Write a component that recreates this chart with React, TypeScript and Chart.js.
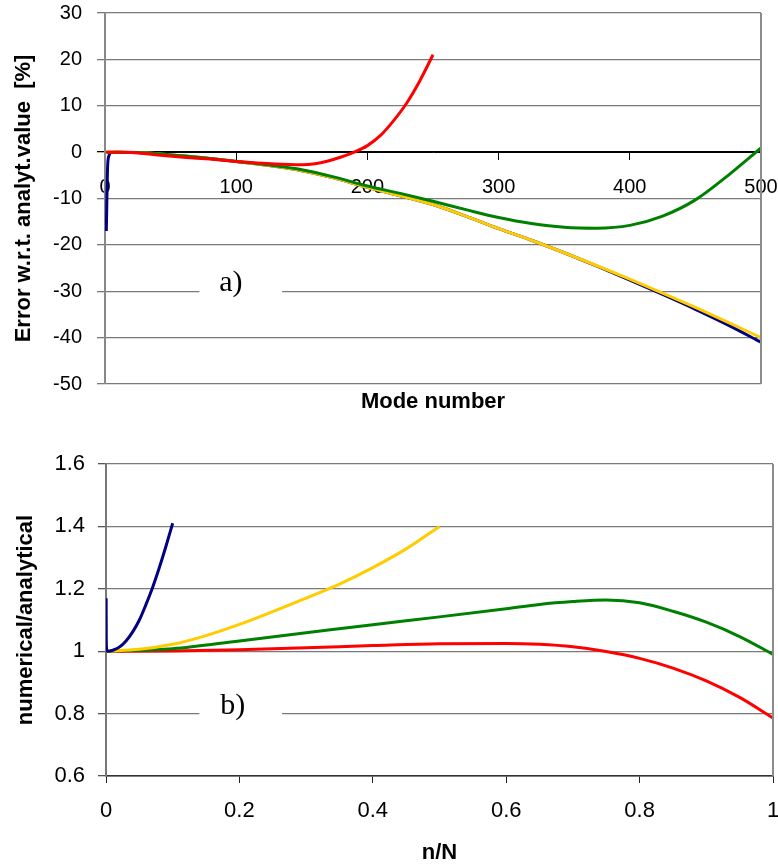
import React, { useEffect, useRef } from "react";
import { Chart, registerables } from "chart.js";

Chart.register(...registerables);

const SANS = '"Liberation Sans", Arial, sans-serif';
const SERIF = '"Liberation Serif", "Times New Roman", serif';

// ---------- Panel a) : error vs mode number ----------
const A_X_TICKS = [0, 100, 200, 300, 400, 500];
const A_Y_TICKS = [-50, -40, -30, -20, -10, 0, 10, 20, 30];

const A_RED_X = [1, 10, 20, 40, 60, 80, 100, 120, 140, 150, 160, 170, 180, 190, 200, 210, 220, 230, 240, 250];
const A_RED_Y = [0, 0, -0.1, -0.6, -1.1, -1.5, -2.0, -2.4, -2.65, -2.7, -2.5, -1.9, -1.05, 0.0, 1.4, 3.6, 6.8, 10.6, 15.4, 21];

const A_GREEN_X = [1, 25, 50, 75, 100, 125, 150, 175, 200, 225, 250, 275, 300, 325, 350, 375, 400, 425, 450, 475, 500];
const A_GREEN_Y = [0, -0.1, -0.6, -1.2, -2.0, -2.8, -3.8, -5.4, -7.3, -8.9, -10.6, -12.4, -14.1, -15.4, -16.2, -16.4, -15.8, -13.8, -10.3, -5.0, 0.9];

const A_YELLOW_X = [1, 25, 50, 75, 100, 125, 150, 175, 200, 225, 250, 275, 300, 325, 350, 375, 400, 425, 450, 475, 500];
const A_YELLOW_Y = [0, -0.1, -0.6, -1.2, -2.0, -2.9, -4.0, -5.6, -7.6, -9.4, -11.3, -13.8, -16.5, -19.0, -21.7, -24.5, -27.4, -30.4, -33.5, -36.7, -40.0];

const A_BLUE_X = [1, 2, 3, 5, 10, 25, 50, 75, 100, 125, 150, 175, 200, 225, 250, 275, 300, 325, 350, 375, 400, 425, 450, 475, 500];
const A_BLUE_Y = [-17, -3, -0.8, -0.1, 0, -0.1, -0.6, -1.2, -2.0, -2.9, -4.0, -5.6, -7.6, -9.4, -11.3, -13.8, -16.5, -19.0, -21.7, -24.6, -27.6, -30.7, -33.9, -37.3, -41.0];

// ---------- Panel b) : numerical/analytical vs n/N ----------
const B_X_TICKS = [0, 0.2, 0.4, 0.6, 0.8, 1];
const B_Y_TICKS = [0.6, 0.8, 1, 1.2, 1.4, 1.6];

const B_BLUE_X = [0.0002, 0.0004, 0.0008, 0.002, 0.005, 0.01, 0.02, 0.03, 0.04, 0.05, 0.06, 0.07, 0.08, 0.09, 0.1];
const B_BLUE_Y = [1.17, 1.04, 1.01, 1.0, 1.0, 1.003, 1.013, 1.033, 1.062, 1.1, 1.15, 1.205, 1.268, 1.337, 1.41];

const B_YELLOW_X = [0, 0.05, 0.1, 0.15, 0.2, 0.25, 0.3, 0.35, 0.4, 0.45, 0.5];
const B_YELLOW_Y = [1.0, 1.006, 1.022, 1.05, 1.086, 1.127, 1.17, 1.215, 1.268, 1.328, 1.4];

const B_GREEN_X = [0, 0.1, 0.2, 0.3, 0.4, 0.5, 0.6, 0.65, 0.7, 0.75, 0.8, 0.85, 0.9, 0.95, 1.0];
const B_GREEN_Y = [1.0, 1.008, 1.033, 1.059, 1.085, 1.11, 1.136, 1.15, 1.159, 1.164, 1.155, 1.128, 1.093, 1.047, 0.99];

const B_RED_X = [0, 0.1, 0.2, 0.3, 0.4, 0.5, 0.6, 0.65, 0.7, 0.75, 0.8, 0.85, 0.9, 0.95, 1.0];
const B_RED_Y = [1.0, 1.001, 1.005, 1.011, 1.018, 1.024, 1.025, 1.022, 1.014, 0.999, 0.977, 0.946, 0.905, 0.852, 0.786];

const NAVY = "#000080";
const GOLD = "#FFCC00";
const GREEN = "#008000";
const RED = "#FF0000";

function pts(xs: number[], ys: number[]) {
  return xs.map((x, i) => ({ x, y: ys[i] }));
}

function line(label: string, color: string, xs: number[], ys: number[]) {
  return {
    label,
    data: pts(xs, ys),
    borderColor: color,
    backgroundColor: color,
    borderWidth: 3,
    pointRadius: 0,
    fill: false,
    cubicInterpolationMode: "monotone" as const,
  };
}

function noScalePadding(s: any) {
  s.paddingLeft = 0;
  s.paddingRight = 0;
  s.paddingTop = 0;
  s.paddingBottom = 0;
}

const panelPlugin = {
  id: "panel",
  afterDatasetsDraw(chart: any, _args: any, opts: any) {
    const { ctx, chartArea, scales } = chart;
    ctx.save();
    // right frame line
    ctx.strokeStyle = "#8c8c8c";
    ctx.lineWidth = 2;
    ctx.beginPath();
    ctx.moveTo(chartArea.right, chartArea.top);
    ctx.lineTo(chartArea.right, chartArea.bottom);
    ctx.stroke();
    // panel label with white gap on gridline
    const y = scales.y.getPixelForValue(opts.labelY);
    const x0 = scales.x.getPixelForValue(opts.gapFrom);
    const x1 = scales.x.getPixelForValue(opts.gapTo);
    ctx.fillStyle = "#ffffff";
    ctx.fillRect(x0, y - 3, x1 - x0, 6);
    ctx.fillStyle = "#000000";
    ctx.font = `30px ${SERIF}`;
    ctx.textAlign = "center";
    ctx.textBaseline = "alphabetic";
    ctx.fillText(opts.label, scales.x.getPixelForValue(opts.labelX), y);
    if (opts.xTitle) {
      ctx.font = `bold 22px ${SANS}`;
      ctx.textBaseline = "middle";
      ctx.fillText(opts.xTitle, (chartArea.left + chartArea.right) / 2, chartArea.bottom + opts.xTitleOffset);
    }
    ctx.restore();
  },
};

function configA(): any {
  return {
    type: "line",
    data: {
      datasets: [
        line("N=250", RED, A_RED_X, A_RED_Y),
        line("N=500", GREEN, A_GREEN_X, A_GREEN_Y),
        line("N=1000", GOLD, A_YELLOW_X, A_YELLOW_Y),
        line("N=5000", NAVY, A_BLUE_X, A_BLUE_Y),
      ],
    },
    plugins: [panelPlugin],
    options: {
      responsive: false,
      animation: false,
      layout: { padding: { left: 0, top: 13, right: 17, bottom: 41 } },
      plugins: {
        legend: { display: false },
        tooltip: { enabled: false },
        panel: { label: "a)", labelX: 96, labelY: -30, gapFrom: 72, gapTo: 135, xTitle: "Mode number", xTitleOffset: 18 },
      },
      scales: {
        x: {
          type: "linear",
          position: { y: 0 },
          min: 0,
          max: 500,
          afterBuildTicks: (s: any) => {
            s.ticks = A_X_TICKS.map((v) => ({ value: v }));
          },
          afterFit: noScalePadding,
          ticks: {
            callback: (v: any) => String(v),
            font: { family: SANS, size: 20 },
            color: "#000",
            padding: 16,
            maxRotation: 0,
            autoSkip: false,
          },
          grid: { drawOnChartArea: false, drawTicks: true, tickLength: 7, tickColor: "#000" },
          border: { display: true, color: "#000", width: 1 },
        },
        y: {
          type: "linear",
          min: -50,
          max: 30,
          afterBuildTicks: (s: any) => {
            s.ticks = A_Y_TICKS.map((v) => ({ value: v }));
          },
          afterFit: (s: any) => {
            s.width = 105;
            noScalePadding(s);
          },
          ticks: {
            callback: (v: any) => String(v),
            font: { family: SANS, size: 20 },
            color: "#000",
            padding: 15,
          },
          grid: {
            color: (c: any) => (c.tick && c.tick.value === 0 ? "#000" : "#7a7a7a"),
            tickColor: (c: any) => (c.tick && c.tick.value === 0 ? "#000" : "#7a7a7a"),
            lineWidth: 1.3,
            tickLength: 8,
          },
          border: { color: "#888", width: 2 },
          title: {
            display: true,
            text: "Error w.r.t. analyt.value  [%]",
            font: { family: SANS, size: 22, weight: "bold" },
            color: "#000",
            padding: { top: 11, bottom: 0 },
          },
        },
      },
    },
  };
}

function configB(): any {
  return {
    type: "line",
    data: {
      datasets: [
        line("N=5000", NAVY, B_BLUE_X, B_BLUE_Y),
        line("N=1000", GOLD, B_YELLOW_X, B_YELLOW_Y),
        line("N=500", GREEN, B_GREEN_X, B_GREEN_Y),
        line("N=250", RED, B_RED_X, B_RED_Y),
      ],
    },
    plugins: [panelPlugin],
    options: {
      responsive: false,
      animation: false,
      layout: { padding: { left: 0, top: 39, right: 5, bottom: 0 } },
      plugins: {
        legend: { display: false },
        tooltip: { enabled: false },
        panel: { label: "b)", labelX: 0.19, labelY: 0.8, gapFrom: 0.14, gapTo: 0.264 },
      },
      scales: {
        x: {
          type: "linear",
          position: "bottom",
          min: 0,
          max: 1,
          afterBuildTicks: (s: any) => {
            s.ticks = B_X_TICKS.map((v) => ({ value: v }));
          },
          afterFit: (s: any) => {
            s.height = 92;
            noScalePadding(s);
          },
          ticks: {
            callback: (v: any) => String(v),
            font: { family: SANS, size: 22 },
            color: "#000",
            padding: 15,
            maxRotation: 0,
            autoSkip: false,
          },
          grid: { drawOnChartArea: false, drawTicks: true, tickLength: 7, tickColor: "#222" },
          border: { display: true, color: "#333", width: 1.5 },
          title: {
            display: true,
            text: "n/N",
            font: { family: SANS, size: 22, weight: "bold" },
            color: "#000",
            padding: { top: 0, bottom: 2 },
          },
        },
        y: {
          type: "linear",
          min: 0.6,
          max: 1.6,
          afterBuildTicks: (s: any) => {
            s.ticks = B_Y_TICKS.map((v) => ({ value: v }));
          },
          afterFit: (s: any) => {
            s.width = 106;
            noScalePadding(s);
          },
          ticks: {
            callback: (v: any) => String(v),
            font: { family: SANS, size: 22 },
            color: "#000",
            padding: 13,
          },
          grid: {
            color: (c: any) => (c.tick && c.tick.value === 0.6 ? "#333" : "#7a7a7a"),
            tickColor: "#555",
            lineWidth: 1.3,
            tickLength: 8,
          },
          border: { color: "#777", width: 2 },
          title: {
            display: true,
            text: "numerical/analytical",
            font: { family: SANS, size: 22, weight: "bold" },
            color: "#000",
            padding: { top: 13, bottom: 0 },
          },
        },
      },
    },
  };
}

function ChartCanvas(props: { make: () => any; top: number; width: number; height: number }) {
  const ref = useRef<HTMLCanvasElement | null>(null);
  useEffect(() => {
    if (!ref.current) return;
    const chart = new Chart(ref.current, props.make());
    return () => chart.destroy();
  }, []);
  return (
    <canvas
      ref={ref}
      width={props.width}
      height={props.height}
      style={{ position: "absolute", left: 0, top: props.top, width: props.width, height: props.height, display: "block" }}
    />
  );
}

export default function App() {
  return (
    <div style={{ position: "fixed", left: 0, top: 0, width: 778, height: 868, background: "#fff", overflow: "hidden" }}>
      <ChartCanvas make={configA} top={0} width={778} height={425} />
      <ChartCanvas make={configB} top={425} width={778} height={443} />
    </div>
  );
}
